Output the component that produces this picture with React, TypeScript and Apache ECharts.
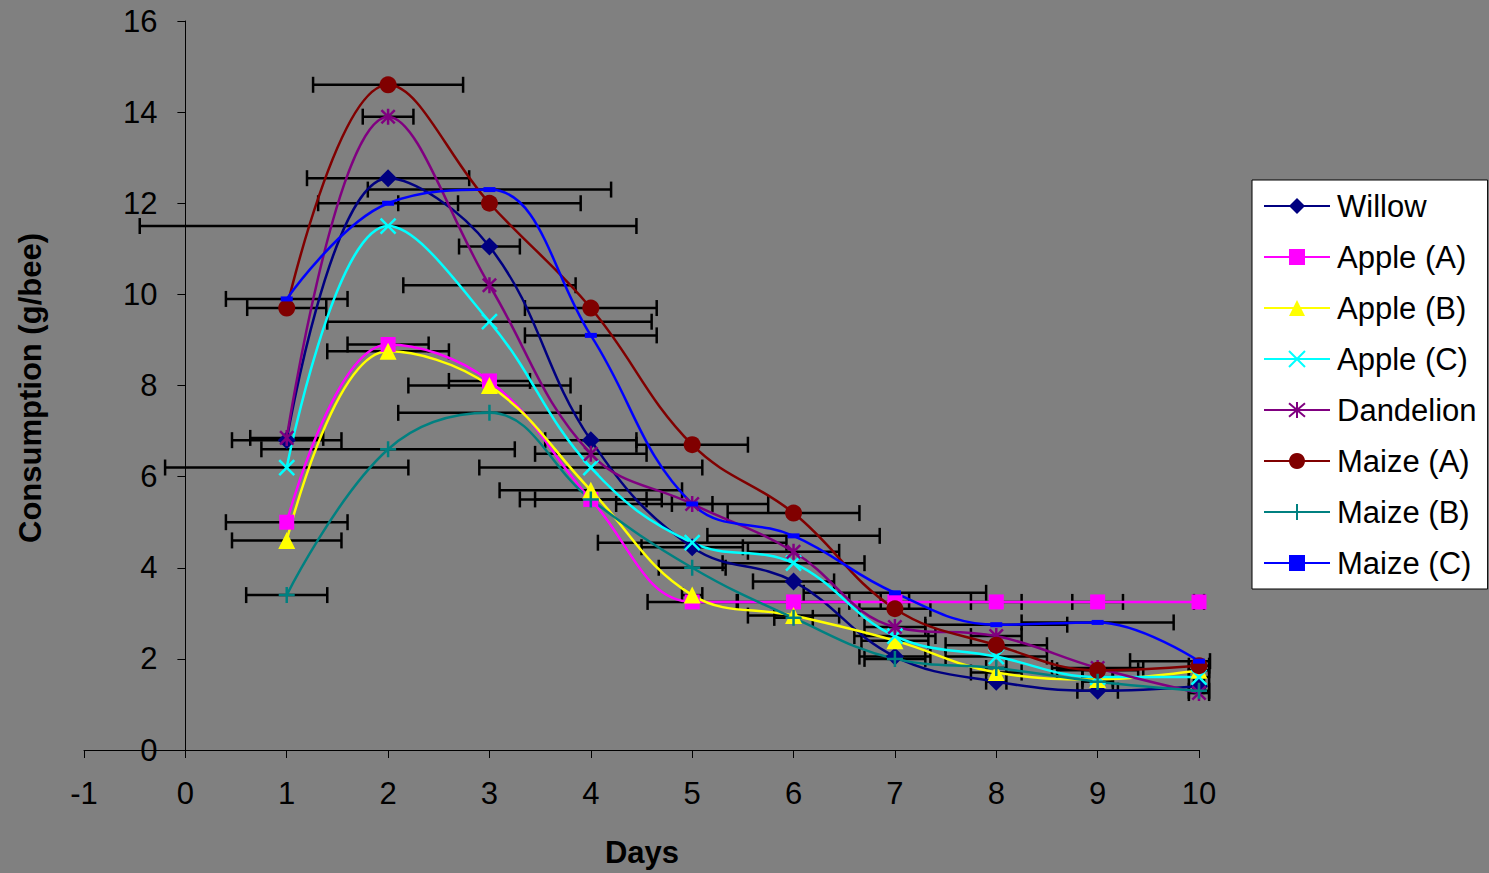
import React, { useEffect, useRef } from "react";
import * as echarts from "echarts";

const days = [1, 2, 3, 4, 5, 6, 7, 8, 9, 10];

const willow = [6.8, 12.55, 11.05, 6.8, 4.45, 3.7, 2.05, 1.5, 1.3, 1.4];
const willowErr = [0.54, 0.8, 0.3, 0.45, 0.5, 0.4, 0.35, 0.1, 0.2, 0.05];

const appleA = [5.0, 8.9, 8.1, 5.5, 3.25, 3.25, 3.25, 3.25, 3.25, 3.25];
const appleAErr = [0.6, 0.4, 0.4, 0.7, 0.44, 0.55, 0.14, 0.25, 0.25, 0.05];

const appleB = [4.6, 8.75, 8.0, 5.7, 3.4, 2.95, 2.4, 1.7, 1.55, 1.75];
const appleBErr = [0.54, 0.6, 0.8, 0.9, 0.1, 0.45, 0.33, 0.25, 0.15, 0.1];

const appleC = [6.2, 11.5, 9.4, 6.2, 4.55, 4.1, 2.5, 2.05, 1.6, 1.6];
const appleCErr = [1.2, 2.45, 1.6, 1.1, 0.93, 0.7, 0.4, 0.5, 0.15, 0.1];

const dandelion = [6.85, 13.9, 10.2, 6.5, 5.4, 4.35, 2.7, 2.5, 1.8, 1.25];
const dandelionErr = [0.36, 0.25, 0.85, 0.55, 0.75, 0.45, 0.3, 0.25, 0.45, 0.1];

const maizeA = [9.7, 14.6, 12.0, 9.7, 6.7, 5.2, 3.1, 2.3, 1.75, 1.85];
const maizeAErr = [0.39, 0.74, 0.9, 0.65, 0.55, 0.65, 0.35, 0.5, 0.4, 0.1];

const maizeB = [3.4, 6.6, 7.4, 5.5, 4.0, 2.9, 2.0, 1.8, 1.5, 1.3];
const maizeBErr = [0.4, 1.25, 0.9, 0.55, 0.33, 0.19, 0.3, 0.1, 0.15, 0.1];

const maizeC = [9.9, 12.0, 12.3, 9.1, 5.4, 4.7, 3.45, 2.75, 2.8, 1.95];
const maizeCErr = [0.6, 0.69, 1.2, 0.65, 0.2, 0.85, 0.9, 0.7, 0.75, 0.68];

const xTicks = { min: -1, max: 10, interval: 1 };
const yTicks = { min: 0, max: 16, interval: 2 };

const FONT = "'Liberation Sans', Arial, sans-serif";

const seriesDefs = [
  { name: "Willow", values: willow, errs: willowErr, color: "#000080", symbol: "diamond", size: 18, stroke: false },
  { name: "Apple (A)", values: appleA, errs: appleAErr, color: "#FF00FF", symbol: "rect", size: 15, stroke: false },
  { name: "Apple (B)", values: appleB, errs: appleBErr, color: "#FFFF00", symbol: "triangle", size: 17, stroke: false },
  { name: "Apple (C)", values: appleC, errs: appleCErr, color: "#00FFFF", symbol: "path://M0,0L10,10M10,0L0,10", size: 15, stroke: true },
  { name: "Dandelion", values: dandelion, errs: dandelionErr, color: "#800080", symbol: "path://M0,0L10,10M10,0L0,10M5,-1L5,11", size: 16, stroke: true },
  { name: "Maize (A)", values: maizeA, errs: maizeAErr, color: "#800000", symbol: "circle", size: 17, stroke: false },
  { name: "Maize (B)", values: maizeB, errs: maizeBErr, color: "#008080", symbol: "path://M5,0L5,10M0,5L10,5", size: 16, stroke: true },
  { name: "Maize (C)", values: maizeC, errs: maizeCErr, color: "#0000FF", symbol: "path://M0,3.5L12,3.5L12,8.5L0,8.5Z", size: 12, stroke: false },
];

export default function App() {
  const ref = useRef<HTMLDivElement>(null);

  useEffect(() => {
    if (!ref.current) return;
    const chart = echarts.init(ref.current, null, { renderer: "svg" });

    const errData: number[][] = [];
    seriesDefs.forEach((s) => {
      days.forEach((d, i) => errData.push([d, s.values[i], s.errs[i]]));
    });

    const lineSeries = seriesDefs.map((s) => ({
      name: s.name,
      type: "line",
      smooth: 0.4,
      data: days.map((d, i) => [d, s.values[i]]),
      symbol: s.symbol,
      symbolSize: s.size,
      symbolKeepAspect: true,
      showAllSymbol: true,
      z: 3,
      lineStyle: { color: s.color, width: 2.5 },
      itemStyle: s.stroke
        ? { color: s.color, borderColor: s.color, borderWidth: 2.5 }
        : { color: s.color, borderWidth: 0 },
      emphasis: { disabled: true },
    }));

    const errSeries = {
      name: "errors",
      type: "custom",
      z: 2,
      data: errData,
      encode: { x: 0, y: 1 },
      renderItem: (params: any, api: any) => {
        const x = api.value(0);
        const y = api.value(1);
        const e = api.value(2);
        const p1 = api.coord([x - e, y]);
        const p2 = api.coord([x + e, y]);
        const leftLim = api.coord([xTicks.min, y])[0];
        const rightLim = api.coord([xTicks.max, y])[0] + 11;
        const x1 = Math.max(p1[0], leftLim);
        const x2 = Math.min(p2[0], rightLim);
        const h = 8;
        const st = { stroke: "#000", lineWidth: 2.5 };
        return {
          type: "group",
          children: [
            { type: "line", shape: { x1, y1: p1[1], x2, y2: p2[1] }, style: st },
            { type: "line", shape: { x1, y1: p1[1] - h, x2: x1, y2: p1[1] + h }, style: st },
            { type: "line", shape: { x1: x2, y1: p2[1] - h, x2, y2: p2[1] + h }, style: st },
          ],
        };
      },
    };

    chart.setOption({
      animation: false,
      backgroundColor: "#808080",
      grid: { left: 84, right: 290, top: 21, bottom: 123, containLabel: false, outerBoundsMode: "none" },
      xAxis: {
        type: "value",
        min: xTicks.min,
        max: xTicks.max,
        interval: xTicks.interval,
        splitLine: { show: false },
        axisLine: { show: true, onZero: false, lineStyle: { color: "#000", width: 1 } },
        axisTick: { show: true, length: 8, inside: false, lineStyle: { color: "#000", width: 1 } },
        axisLabel: { color: "#000", fontSize: 31, fontFamily: FONT, margin: 28, hideOverlap: false },
      },
      yAxis: {
        type: "value",
        min: yTicks.min,
        max: yTicks.max,
        interval: yTicks.interval,
        position: "left",
        offset: -101.4,
        splitLine: { show: false },
        axisLine: { show: true, onZero: false, lineStyle: { color: "#000", width: 1 } },
        axisTick: { show: true, length: 8, inside: false, lineStyle: { color: "#000", width: 1 } },
        axisLabel: { color: "#000", fontSize: 31, fontFamily: FONT, margin: 28, hideOverlap: false },
      },
      legend: {
        show: true,
        orient: "vertical",
        left: 1252,
        top: 180,
        data: seriesDefs.map((s) => s.name),
        backgroundColor: "#FFFFFF",
        borderColor: "#000000",
        borderWidth: 1,
        borderRadius: 0,
        padding: [10, 11, 10, 11],
        itemWidth: 66,
        itemHeight: 20,
        itemGap: 19,
        textStyle: { color: "#000", fontSize: 31, fontFamily: FONT, lineHeight: 32, padding: [0, 0, 0, 2] },
        selectedMode: false,
      },
      graphic: [
        {
          type: "text",
          x: 30,
          y: 388,
          rotation: Math.PI / 2,
          style: {
            text: "Consumption (g/bee)",
            font: `bold 31px ${FONT}`,
            fill: "#000",
            textAlign: "center",
            textVerticalAlign: "middle",
          },
        },
        {
          type: "text",
          x: 642,
          y: 852,
          style: {
            text: "Days",
            font: `bold 31px ${FONT}`,
            fill: "#000",
            textAlign: "center",
            textVerticalAlign: "middle",
          },
        },
      ],
      series: [errSeries, ...lineSeries],
    });

    return () => chart.dispose();
  }, []);

  return (
    <div
      ref={ref}
      style={{ position: "fixed", left: 0, top: 0, width: 1489, height: 873 }}
    />
  );
}
